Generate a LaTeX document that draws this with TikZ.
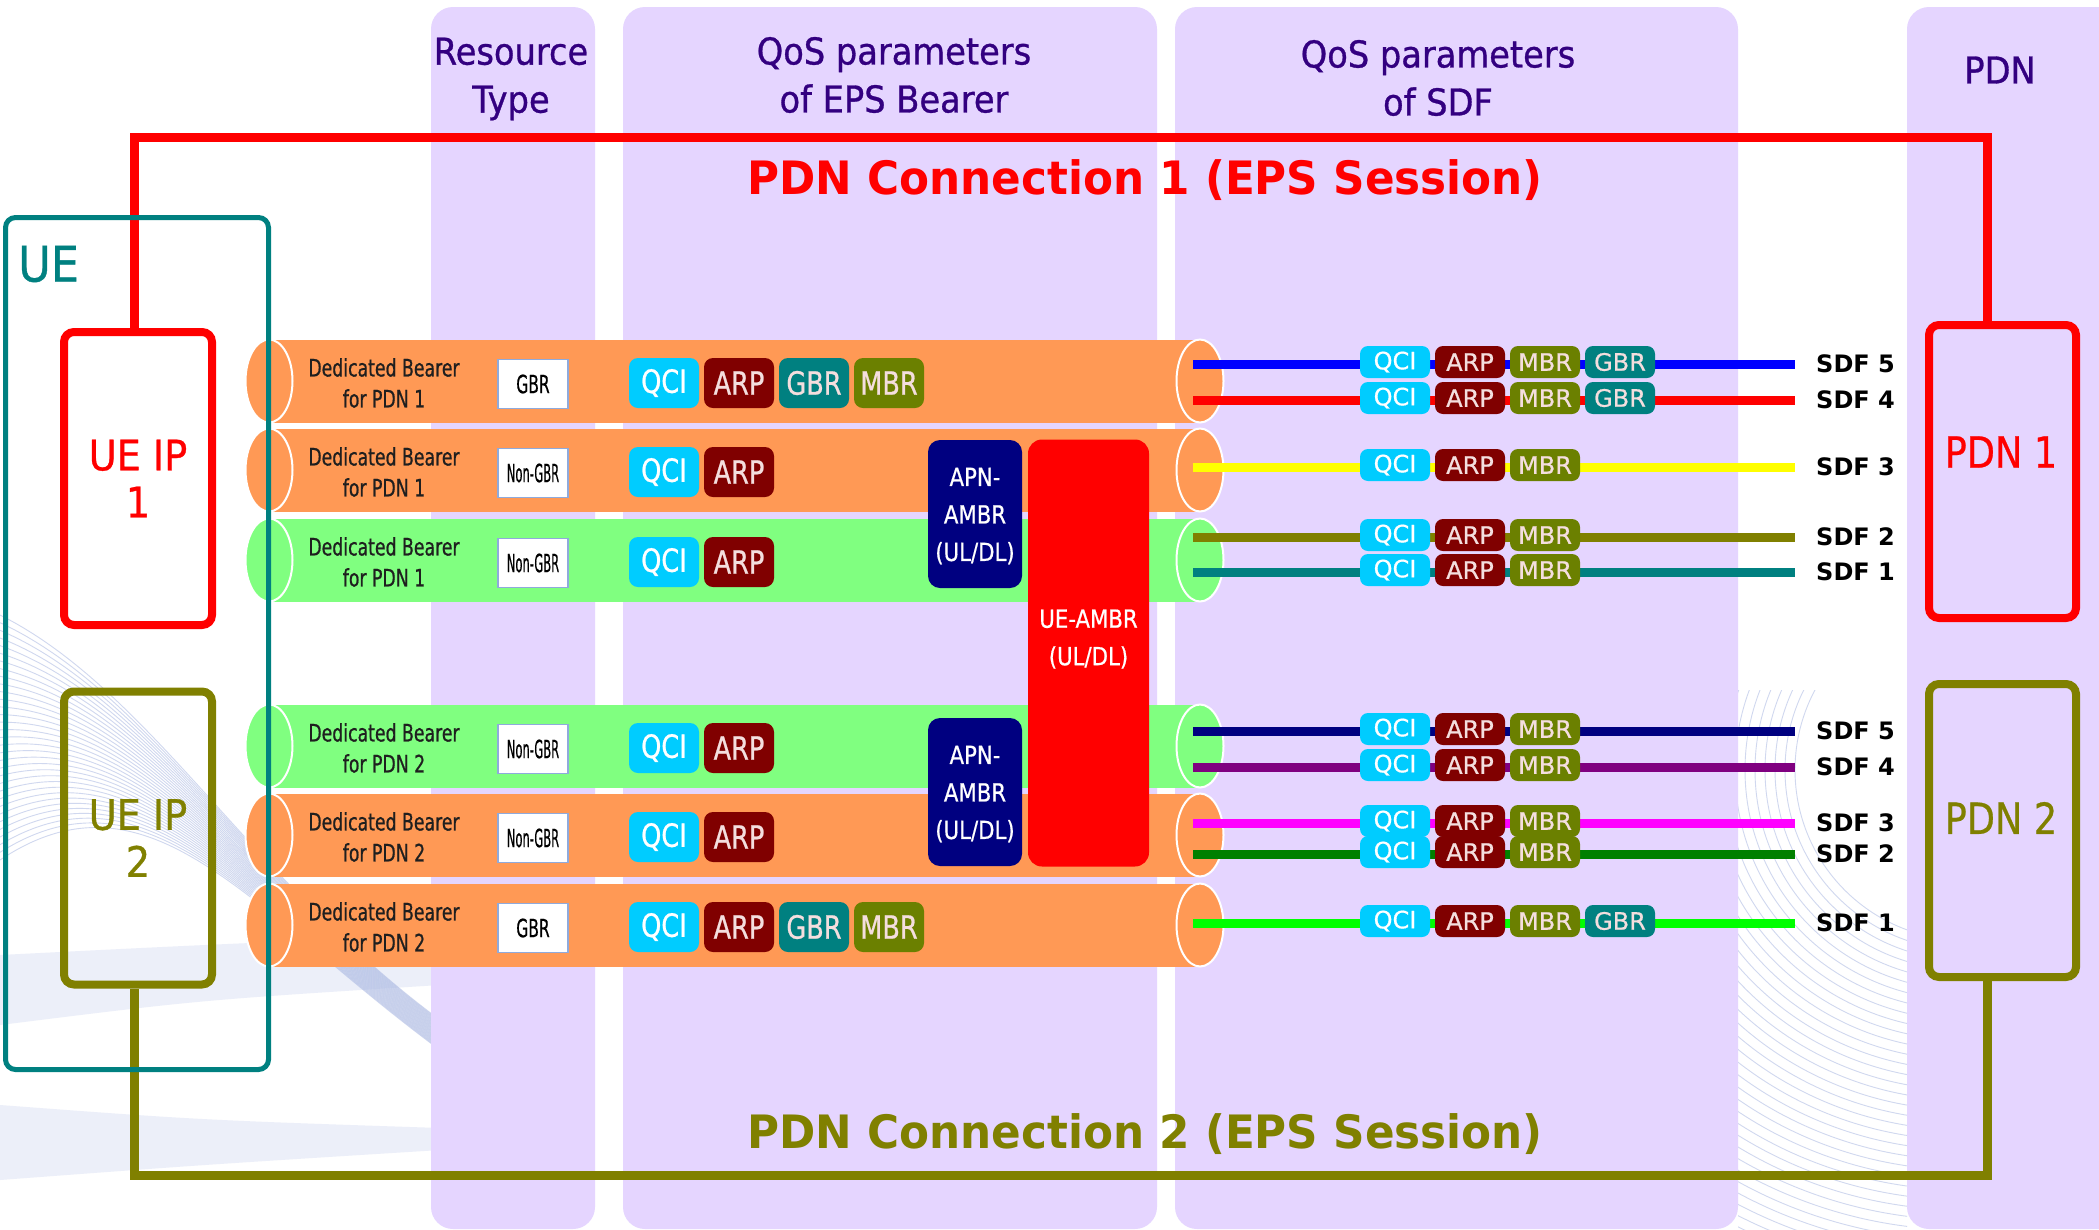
\documentclass[tikz,border=0pt]{standalone}
\usepackage{graphicx}
\usepackage{fontspec}
\setmainfont{DejaVu Sans}
\newfontfamily\fhead{DejaVu Sans}[FakeStretch=0.91,FakeBold=0.8]
\newfontfamily\ftitle{DejaVu Sans}[FakeStretch=0.95]
\newfontfamily\fnarrow{DejaVu Sans}[FakeStretch=0.72,FakeBold=0.7]
\newfontfamily\fbadge{DejaVu Sans}[FakeStretch=0.8,FakeBold=0.7]
\newfontfamily\fsmall{DejaVu Sans}[FakeBold=0.6]
\newfontfamily\fambr{DejaVu Sans}[FakeStretch=0.85,FakeBold=0.6]
\usetikzlibrary{shapes.geometric,calc}
\newcommand\fsz[2]{\fontsize{#1}{#2}\selectfont}

\definecolor{lav}{RGB}{229,213,255}
\definecolor{hdr}{RGB}{51,0,128}
\definecolor{tealc}{RGB}{0,128,128}
\definecolor{olivec}{RGB}{128,128,0}
\definecolor{pipeor}{RGB}{255,153,85}
\definecolor{pipegr}{RGB}{128,255,128}
\definecolor{navyc}{RGB}{0,0,128}
\definecolor{qcic}{RGB}{0,204,255}
\definecolor{arpc}{RGB}{128,0,0}
\definecolor{gbrc}{RGB}{0,128,128}
\definecolor{mbrc}{RGB}{107,128,0}
\definecolor{badgetxt}{RGB}{244,222,222}
\definecolor{rtborder}{RGB}{143,170,220}
\definecolor{wavec}{RGB}{170,184,226}
\definecolor{bandc}{RGB}{236,239,249}
\definecolor{purplec}{RGB}{128,0,128}
\definecolor{limec}{RGB}{0,255,0}
\definecolor{greenc}{RGB}{0,128,0}
\definecolor{yellowc}{RGB}{255,255,0}
\definecolor{magentac}{RGB}{255,0,255}
\definecolor{bluec}{RGB}{0,0,255}
\definecolor{redc}{RGB}{255,0,0}

\tikzset{
  column/.style={fill=lav, rounded corners=22pt},
  hdrtxt/.style={text=hdr, font=\fhead\fsz{37}{48}, align=center, inner sep=0pt},
  titletxt/.style={font=\ftitle\bfseries\fsz{46}{50}, inner sep=0pt},
  conn/.style={line width=9pt},
  ipbox/.style={rounded corners=10pt, line width=8pt, minimum width=148pt, minimum height=293pt, inner sep=0pt, align=center, font=\fhead\fsz{42}{47}},
  pipe/.style={minimum width=931pt, minimum height=83pt, inner sep=0pt},
  capend/.style={ellipse, minimum width=47pt, minimum height=83pt, inner sep=0pt, draw=white, line width=2pt},
  bearertxt/.style={font=\fnarrow\fsz{24}{31}, text=black!88, align=center, inner sep=0pt},
  rtbox/.style={draw=rtborder, line width=1.5pt, fill=white, minimum width=70pt, minimum height=49pt, inner sep=0pt, font=\fsmall\fsz{25}{30}},
  badge/.style={rounded corners=9pt, minimum width=70pt, minimum height=50pt, inner sep=0pt, font=\fbadge\fsz{32}{36}},
  sbadge/.style={rounded corners=8pt, minimum width=70pt, minimum height=32pt, inner sep=0pt, font=\fsmall\fsz{24}{28}},
  ambrbox/.style={fill=navyc, rounded corners=12pt, minimum width=94pt, minimum height=148pt, inner sep=0pt},
  ambrtxt/.style={text=white, font=\fambr\fsz{25}{37.5}, align=center, inner sep=0pt},
  sdfline/.style={line width=9pt},
  sdflab/.style={font=\bfseries\fsz{24}{28}, anchor=west, inner sep=0pt},
  wave/.style={draw=wavec, line width=0.9pt, opacity=0.55},
}

\begin{document}
\begin{tikzpicture}[x=1pt,y=-1pt]
\useasboundingbox (0,0) rectangle (2099,1229);
\clip (0,0) rectangle (2099,1229);
\fill[white] (0,0) rectangle (2099,1229);

% faint ribbon decoration in the background
\fill[bandc] (0,955) .. controls (200,945) .. (440,935) -- (440,985) .. controls (200,1000) .. (0,1025) -- cycle;
\fill[bandc] (0,1105) .. controls (200,1120) .. (440,1128) -- (440,1150) .. controls (200,1165) .. (0,1180) -- cycle;
\foreach \i in {0,...,32}{
  \pgfmathsetmacro\t{\i/32}
  \draw[wave] (0,{615+245*\t}) .. controls (150,{690+70*\t}) and (250,{880+30*\t}) .. (440,{1020+30*\t});
}
\begin{scope}
  \clip (1738,690) rectangle (1907,1229);
  \foreach \r in {170,180,...,560}{
    \draw[wave] (1965,770) circle[radius=\r pt];
  }
\end{scope}

% parameter columns
\fill[column] (431,7) rectangle (595,1229);
\fill[column] (623,7) rectangle (1157,1229);
\fill[column] (1175,7) rectangle (1738,1229);
\fill[column] (1907,7) rectangle (2140,1229);

\node[hdrtxt] (hres) at (511,79) {Resource\\Type};
\node[hdrtxt] (heps) at (894,75) {QoS parameters\\of EPS Bearer};
\node[hdrtxt] (hsdf) at (1438,78) {QoS parameters\\of SDF};
\node[hdrtxt] (hpdn) at (2000,70) {PDN};

% UE IP addresses and PDNs
\node[ipbox, draw=redc, text=redc] (ueip1) at (138,478.5) {UE IP\\1};
\node[ipbox, draw=olivec, text=olivec] (ueip2) at (138,838) {UE IP\\2};
\node[ipbox, draw=redc, minimum width=147pt] (pdn1) at (2002.5,471.5) {};
\node[ipbox, draw=olivec, minimum width=147pt] (pdn2) at (2002.5,830.5) {};
\node[font=\fambr\fsz{43}{47}, text=redc, inner sep=0pt] (pdn1lab) at (2001,452) {PDN 1};
\node[font=\fambr\fsz{43}{47}, text=olivec, inner sep=0pt] (pdn2lab) at (2001,818) {PDN 2};

% PDN connections
\coordinate (linkA) at (0,137);
\coordinate (linkB) at (0,1175);
\coordinate (a1) at ($(ueip1.north)+(-4,0)$);
\coordinate (b1) at ($(pdn1.north)+(-15,0)$);
\coordinate (a2) at ($(ueip2.south)+(-4,0)$);
\coordinate (b2) at ($(pdn2.south)+(-15,0)$);
\draw[conn, redc] (a1) -- (a1 |- linkA) -- (b1 |- linkA) -- (b1);
\draw[conn, olivec] (a2) -- (a2 |- linkB) -- (b2 |- linkB) -- (b2);
\node[titletxt, text=redc] (conn1) at (1145,180) {PDN Connection 1 (EPS Session)};
\node[titletxt, text=olivec] (conn2) at (1145,1134) {PDN Connection 2 (EPS Session)};

% EPS bearers
\foreach \i/\yy/\col/\pdn/\rt in {
  1/381/pipeor/1/{\scalebox{0.62}[1]{GBR}},
  2/470/pipeor/1/{\scalebox{0.46}[1]{Non-GBR}},
  3/560/pipegr/1/{\scalebox{0.46}[1]{Non-GBR}},
  4/746/pipegr/2/{\scalebox{0.46}[1]{Non-GBR}},
  5/835/pipeor/2/{\scalebox{0.46}[1]{Non-GBR}},
  6/925/pipeor/2/{\scalebox{0.62}[1]{GBR}}}{
  \node[pipe, fill=\col] (body\i) at (734.5,\yy) {};
  \node[capend, fill=\col] (capL\i) at (269,\yy) {};
  \node[capend, fill=\col] (capR\i) at (1200,\yy) {};
  \node[bearertxt] (bear\i) at (384,\yy+2) {Dedicated Bearer\\for PDN \pdn};
  \node[rtbox] (rt\i) at (533,\yy+3) {\rt};
  \node[badge, fill=qcic, text=white] (qci\i) at (664,\yy+2) {QCI};
  \node[badge, fill=arpc, text=badgetxt] (arp\i) at (739,\yy+2) {ARP};
}
\foreach \i/\yy in {1/381,6/925}{
  \node[badge, fill=gbrc, text=badgetxt] (gbr\i) at (814,\yy+2) {GBR};
  \node[badge, fill=mbrc, text=badgetxt] (mbr\i) at (889,\yy+2) {MBR};
}

% UE
\node[draw=tealc, line width=5pt, rounded corners=10pt, minimum width=263pt, minimum height=852pt, inner sep=0pt] (ue) at (137,643.5) {};
\node[font=\fhead\fsz{49}{52}, text=tealc, anchor=west, inner sep=0pt] (uelab) at (18,264) {UE};

% aggregate maximum bit rates
\node[ambrbox] (apn1) at (975,514) {};
\node[ambrtxt] (apn1lab) at (975,516) {APN-\\AMBR\\(UL/DL)};
\node[ambrbox] (apn2) at (975,792) {};
\node[ambrtxt] (apn2lab) at (975,794) {APN-\\AMBR\\(UL/DL)};
\node[fill=redc, rounded corners=14pt, minimum width=121pt, minimum height=427pt, inner sep=0pt] (ueambr) at (1088.5,653) {};
\node[ambrtxt] (ueambrlab) at (1088.5,639) {UE-AMBR\\(UL/DL)};

% service data flows
\foreach \nm/\k/\yy/\cp/\col/\g in {
  u5/5/364/capR1/bluec/1, u4/4/400/capR1/redc/1, u3/3/467/capR2/yellowc/0,
  u2/2/537/capR3/olivec/0, u1/1/572/capR3/tealc/0,
  l5/5/731/capR4/navyc/0, l4/4/767/capR4/purplec/0, l3/3/823/capR5/magentac/0,
  l2/2/854/capR5/greenc/0, l1/1/923/capR6/limec/1}{
  \node[sdflab] (\nm) at (1816,\yy) {SDF \k};
  \draw[sdfline, draw=\col, shorten >=21pt, shorten <=-7pt] (\cp.center |- \nm.west) -- (\nm.west);
  \node[sbadge, fill=qcic, text=white] (\nm-q) at (1395,\yy-2) {QCI};
  \node[sbadge, fill=arpc, text=badgetxt] (\nm-a) at (1470,\yy-2) {ARP};
  \node[sbadge, fill=mbrc, text=badgetxt] (\nm-m) at (1545,\yy-2) {MBR};
  \ifnum\g=1 \node[sbadge, fill=gbrc, text=badgetxt] (\nm-g) at (1620,\yy-2) {GBR};\fi
}
\end{tikzpicture}
\end{document}
